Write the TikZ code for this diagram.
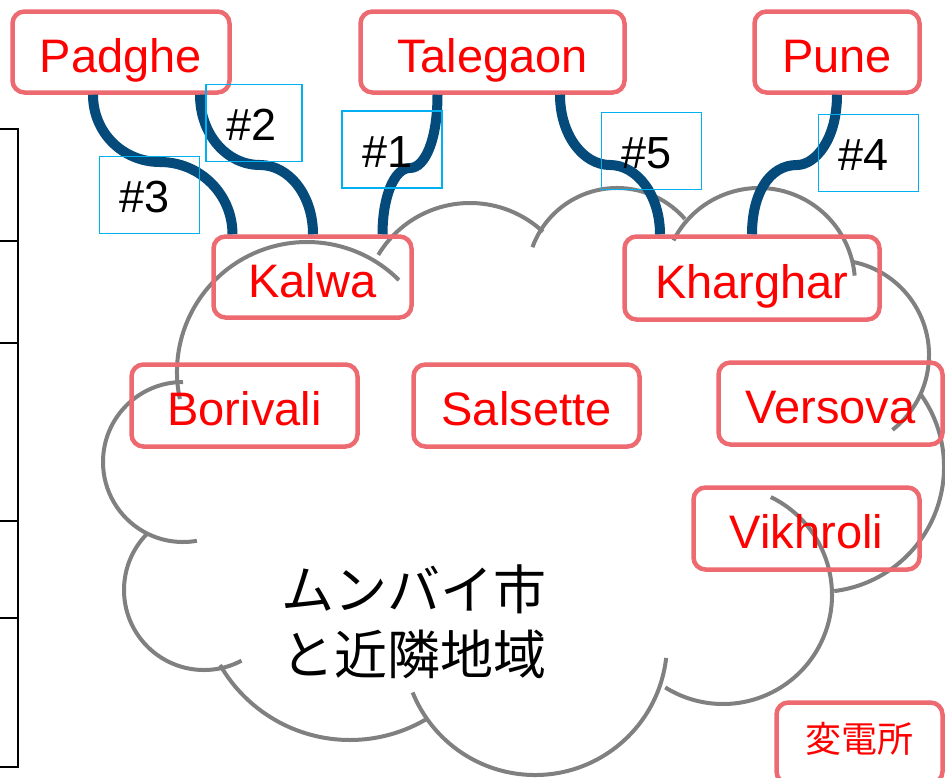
\documentclass[tikz,border=0pt]{standalone}
\usepackage{fontspec}
\setmainfont{Liberation Sans}
\newfontfamily\cjk{Noto Sans CJK JP}
\definecolor{boxpink}{RGB}{236,106,112}
\definecolor{cablecol}{RGB}{4,74,122}
\definecolor{lblcyan}{RGB}{0,176,240}
\definecolor{cloudgray}{RGB}{128,128,128}
\begin{document}
\begin{tikzpicture}[x=1pt,y=-1pt,
  site/.style={draw=boxpink, line width=4.5pt, rounded corners=12pt, text=red,
    font=\fontsize{47}{50}\selectfont, text height=40pt, text depth=0pt, inner sep=0pt},
  subst/.style={site, font=\cjk\fontsize{36}{40}\selectfont, text height=22pt, text depth=4pt},
  tag/.style={draw=lblcyan, line width=1.8pt, font=\fontsize{45}{48}\selectfont,
    text width=60pt, align=left, inner xsep=20pt, inner ysep=0pt, minimum height=77pt,
    text height=35pt, text depth=0pt},
  cablestyle/.style={draw=cablecol, line width=10pt},
  cloudline/.style={draw=cloudgray, line width=4pt},
  tablerule/.style={draw=black, line width=2pt}
]
\useasboundingbox (0,0) rectangle (945,777);

% partial table at the left edge
\draw[tablerule] (0,129) -- (18,129);
\draw[tablerule] (0,241) -- (18,241);
\draw[tablerule] (0,343) -- (18,343);
\draw[tablerule] (0,521) -- (18,521);
\draw[tablerule] (0,618) -- (18,618);
\draw[tablerule] (0,767) -- (18,767);
\draw[tablerule] (18,128) -- (18,768);

% cloud outline (arcs)
\draw[cloudline] ([shift={(270:80)}]183,462) arc[start angle=270, end angle=80, radius=80];
\draw[cloudline] ([shift={(168:130)}]307,372) arc[start angle=168, end angle=315, radius=130];
\draw[cloudline] ([shift={(211:107)}]470,310) arc[start angle=211, end angle=313, radius=107];
\draw[cloudline] ([shift={(200:90)}]617,278) arc[start angle=200, end angle=319, radius=90];
\draw[cloudline] ([shift={(207:96)}]759,284) arc[start angle=207, end angle=355, radius=96];
\draw[cloudline] ([shift={(281:95)}]834,355) arc[start angle=281, end angle=412, radius=95];
\draw[cloudline] ([shift={(324:125)}]819,467) arc[start angle=324, end angle=443, radius=125];
\draw[cloudline] ([shift={(296:109)}]723,595) arc[start angle=296, end angle=482, radius=109];
\draw[cloudline] ([shift={(6.5:132)}]535,643) arc[start angle=6.5, end angle=158, radius=132];
\draw[cloudline] ([shift={(150:150)}]350,590) arc[start angle=150, end angle=58.6, radius=150];
\draw[cloudline] ([shift={(225:80)}]204,590) arc[start angle=225, end angle=62, radius=80];

\node[font=\cjk\fontsize{53}{65}\selectfont, align=center, inner sep=0pt] (region) at (414,622)
  {ムンバイ市\\と近隣地域};

% substations
\node[site, minimum width=217pt, minimum height=81pt] (padghe) at (121,52) {Padghe};
\node[site, minimum width=264pt, minimum height=81pt] (talegaon) at (492.5,52) {Talegaon};
\node[site, minimum width=165pt, minimum height=81pt] (pune) at (837,52) {Pune};
\node[site, minimum width=198pt, minimum height=81pt] (kalwa) at (312.5,277) {Kalwa};
\node[site, minimum width=255pt, minimum height=83pt] (kharghar) at (752,278) {Kharghar};
\node[site, minimum width=226pt, minimum height=82pt] (borivali) at (244.5,405.5) {Borivali};
\node[site, minimum width=226pt, minimum height=82pt] (salsette) at (526.5,405.5) {Salsette};
\node[site, minimum width=224pt, minimum height=82pt] (versova) at (830.5,403.5) {Versova};
\node[site, minimum width=226pt, minimum height=82pt] (vikhroli) at (806.5,528.5) {Vikhroli};
\node[subst, minimum width=166pt, minimum height=81pt] (hensho) at (859.5,743) {変電所};

% cable end points and bends
\coordinate (c3a) at ([xshift=-28pt]padghe.south);
\coordinate (c3m) at (160,162);
\coordinate (c3b) at ([xshift=-80pt]kalwa.north);
\coordinate (c2a) at ([xshift=79pt]padghe.south);
\coordinate (c2m) at (260,165);
\coordinate (c2b) at ([xshift=0.5pt]kalwa.north);
\coordinate (c1a) at ([xshift=-55pt]talegaon.south);
\coordinate (c1m) at (410,168);
\coordinate (c1b) at ([xshift=70pt]kalwa.north);
\coordinate (c5a) at ([xshift=67.5pt]talegaon.south);
\coordinate (c5m) at (610,165);
\coordinate (c5b) at ([xshift=-92pt]kharghar.north);
\coordinate (c4a) at (pune.south);
\coordinate (c4m) at (797,165);
\coordinate (c4b) at (kharghar.north);

\draw[cablestyle] (c3a) .. controls +(0,38) and +(-37,0) .. (c3m) .. controls +(40,0) and +(0,-40) .. (c3b);
\draw[cablestyle] (c2a) .. controls +(0,40) and +(-33,0) .. (c2m) .. controls +(29,0) and +(0,-39) .. (c2b);
\draw[cablestyle] (c1a) .. controls +(0,45) and +(15,0) .. (c1m) .. controls +(-16,0) and +(0,-37) .. (c1b);
\draw[cablestyle] (c5a) .. controls +(0,40) and +(-27,0) .. (c5m) .. controls +(27,0) and +(0,-39) .. (c5b);
\draw[cablestyle] (c4a) .. controls +(0,45) and +(18,0) .. (c4m) .. controls +(-28,0) and +(0,-40) .. (c4b);

% cable labels
\node[tag] (t3) at (149.5,195) {\#3};
\node[tag, text width=56pt] (t2) at (254,123) {\#2};
\node[tag] (t1) at (392,149.5) {\#1};
\node[tag] (t5) at (651.5,151) {\#5};
\node[tag] (t4) at (868.5,153) {\#4};
\end{tikzpicture}
\end{document}
